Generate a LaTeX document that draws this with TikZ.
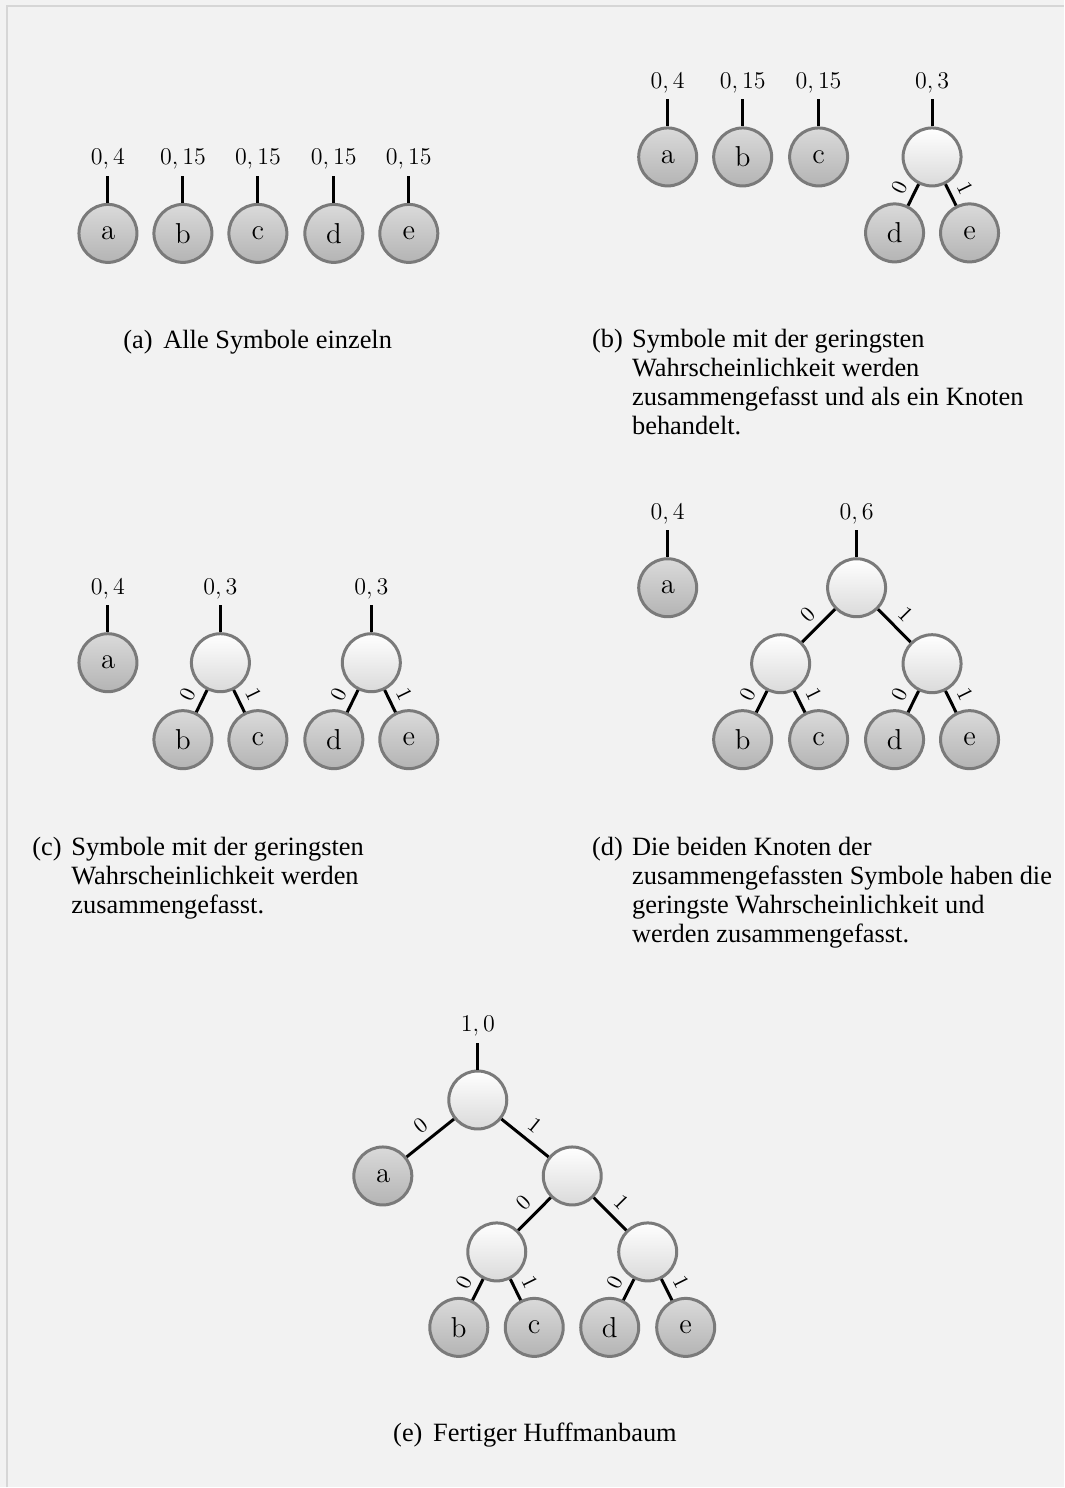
\documentclass[tikz,border=0pt]{standalone}
\usepackage[no-math]{fontspec}
\newfontfamily\capfont{Liberation Serif}

\definecolor{bgcol}{HTML}{F2F2F2}
\definecolor{framecol}{HTML}{D6D6D6}
\definecolor{rimcol}{HTML}{7A7A7A}
\definecolor{leaftop}{HTML}{DADADA}
\definecolor{leafbot}{HTML}{B4B4B4}
\definecolor{innerbot}{HTML}{DADADA}

\begin{document}
\begin{tikzpicture}[x=0.5pt,y=-0.5pt,
  leaf/.style={circle, draw=rimcol, line width=1.5pt, minimum size=29pt,
    inner sep=0pt, top color=leaftop, bottom color=leafbot,
    font=\fontsize{14}{16}\selectfont},
  inner/.style={leaf, top color=white, bottom color=innerbot},
  link/.style={line width=1.5pt, black},
  prob/.style={anchor=south, inner sep=3pt, font=\fontsize{11.6}{13}\selectfont},
  bit/.style={midway, above, sloped, inner sep=3.6pt, font=\fontsize{10.5}{12}\selectfont},
  caption/.style={anchor=base west, inner sep=0pt,
    font=\capfont\fontsize{13.2}{14.5}\selectfont}]

% page background and frame
\fill[bgcol] (0,0) rectangle (1064,1488);
\draw[framecol, line width=0.7pt] (7,1488) -- (7,6) -- (1064,6);
\useasboundingbox (0,0) rectangle (1064,1488);

% ---------- (a) all symbols separately ----------
\foreach \n/\x/\p in {a/108/{0,4}, b/183/{0,15}, c/258/{0,15}, d/334/{0,15}, e/409/{0,15}} {
  \node[leaf] (A\n) at (\x,233.5) {$\mathrm{\n}$};
  \draw[link] (A\n.north) -- ++(0,-27) coordinate (As\n);
  \node[prob] (Ap\n) at (As\n) {$\p$};
}
\node[caption] (Acapl) at (123,349) {(a)};
\node[caption] (Acapt) at (163,349) {Alle Symbole einzeln};

% ---------- (b) d and e merged ----------
\foreach \n/\x/\p in {a/668/{0,4}, b/743/{0,15}, c/819/{0,15}} {
  \node[leaf] (B\n) at (\x,157) {$\mathrm{\n}$};
  \draw[link] (B\n.north) -- ++(0,-27) coordinate (Bs\n);
  \node[prob] (Bp\n) at (Bs\n) {$\p$};
}
\node[inner] (Bde) at (932.5,157) {};
\node[leaf] (Bd) at (895,233) {$\mathrm{d}$};
\node[leaf] (Be) at (970,233) {$\mathrm{e}$};
\draw[link] (Bde.north) -- ++(0,-27) coordinate (Bsde);
\node[prob] (Bpde) at (Bsde) {$0,3$};
\draw[link] (Bde) -- (Bd) node[bit] {$0$};
\draw[link] (Bde) -- (Be) node[bit] {$1$};
\node[caption] (Bcapl) at (592,348) {(b)};
\node[caption] (Bcapt) at (632,348) {\parbox[t]{230pt}{Symbole mit der geringsten\\
  Wahrscheinlichkeit werden\\ zusammengefasst und als ein Knoten\\ behandelt.}};

% ---------- (c) b and c merged as well ----------
\node[leaf] (Ca) at (108,663) {$\mathrm{a}$};
\draw[link] (Ca.north) -- ++(0,-27) coordinate (Csa);
\node[prob] (Cpa) at (Csa) {$0,4$};
\node[inner] (Cbc) at (220.5,663) {};
\node[inner] (Cde) at (371.5,663) {};
\node[leaf] (Cb) at (183,740) {$\mathrm{b}$};
\node[leaf] (Cc) at (258,740) {$\mathrm{c}$};
\node[leaf] (Cd) at (334,740) {$\mathrm{d}$};
\node[leaf] (Ce) at (409,740) {$\mathrm{e}$};
\draw[link] (Cbc.north) -- ++(0,-27) coordinate (Csbc);
\node[prob] (Cpbc) at (Csbc) {$0,3$};
\draw[link] (Cde.north) -- ++(0,-27) coordinate (Csde);
\node[prob] (Cpde) at (Csde) {$0,3$};
\draw[link] (Cbc) -- (Cb) node[bit] {$0$};
\draw[link] (Cbc) -- (Cc) node[bit] {$1$};
\draw[link] (Cde) -- (Cd) node[bit] {$0$};
\draw[link] (Cde) -- (Ce) node[bit] {$1$};
\node[caption] (Ccapl) at (32,856) {(c)};
\node[caption] (Ccapt) at (71,856) {\parbox[t]{240pt}{Symbole mit der geringsten\\
  Wahrscheinlichkeit werden\\ zusammengefasst.}};

% ---------- (d) the two merged nodes merged ----------
\node[leaf] (Da) at (668,588) {$\mathrm{a}$};
\draw[link] (Da.north) -- ++(0,-27) coordinate (Dsa);
\node[prob] (Dpa) at (Dsa) {$0,4$};
\node[inner] (Droot) at (857,588) {};
\node[inner] (Dbc) at (781,664) {};
\node[inner] (Dde) at (932.5,664) {};
\node[leaf] (Db) at (743,740) {$\mathrm{b}$};
\node[leaf] (Dc) at (819,740) {$\mathrm{c}$};
\node[leaf] (Dd) at (895,740) {$\mathrm{d}$};
\node[leaf] (De) at (970,740) {$\mathrm{e}$};
\draw[link] (Droot.north) -- ++(0,-27) coordinate (Dsroot);
\node[prob] (Dproot) at (Dsroot) {$0,6$};
\draw[link] (Droot) -- (Dbc) node[bit] {$0$};
\draw[link] (Droot) -- (Dde) node[bit] {$1$};
\draw[link] (Dbc) -- (Db) node[bit] {$0$};
\draw[link] (Dbc) -- (Dc) node[bit] {$1$};
\draw[link] (Dde) -- (Dd) node[bit] {$0$};
\draw[link] (Dde) -- (De) node[bit] {$1$};
\node[caption] (Dcapl) at (592,856) {(d)};
\node[caption] (Dcapt) at (632,856) {\parbox[t]{240pt}{Die beiden Knoten der\\
  zusammengefassten Symbole haben die\\ geringste Wahrscheinlichkeit und\\
  werden zusammengefasst.}};

% ---------- (e) finished Huffman tree ----------
\node[inner] (Eroot) at (478,1100.5) {};
\node[leaf] (Ea) at (383,1176.5) {$\mathrm{a}$};
\node[inner] (Ebcde) at (572.5,1176.5) {};
\node[inner] (Ebc) at (497,1252.5) {};
\node[inner] (Ede) at (648,1252.5) {};
\node[leaf] (Eb) at (459,1328) {$\mathrm{b}$};
\node[leaf] (Ec) at (534.5,1328) {$\mathrm{c}$};
\node[leaf] (Ed) at (610,1328) {$\mathrm{d}$};
\node[leaf] (Ee) at (686,1328) {$\mathrm{e}$};
\draw[link] (Eroot.north) -- ++(0,-27) coordinate (Esroot);
\node[prob] (Eproot) at (Esroot) {$1,0$};
\draw[link] (Eroot) -- (Ea) node[bit] {$0$};
\draw[link] (Eroot) -- (Ebcde) node[bit] {$1$};
\draw[link] (Ebcde) -- (Ebc) node[bit] {$0$};
\draw[link] (Ebcde) -- (Ede) node[bit] {$1$};
\draw[link] (Ebc) -- (Eb) node[bit] {$0$};
\draw[link] (Ebc) -- (Ec) node[bit] {$1$};
\draw[link] (Ede) -- (Ed) node[bit] {$0$};
\draw[link] (Ede) -- (Ee) node[bit] {$1$};
\node[caption] (Ecapl) at (393,1442) {(e)};
\node[caption] (Ecapt) at (433,1442) {Fertiger Huffmanbaum};
\end{tikzpicture}
\end{document}
